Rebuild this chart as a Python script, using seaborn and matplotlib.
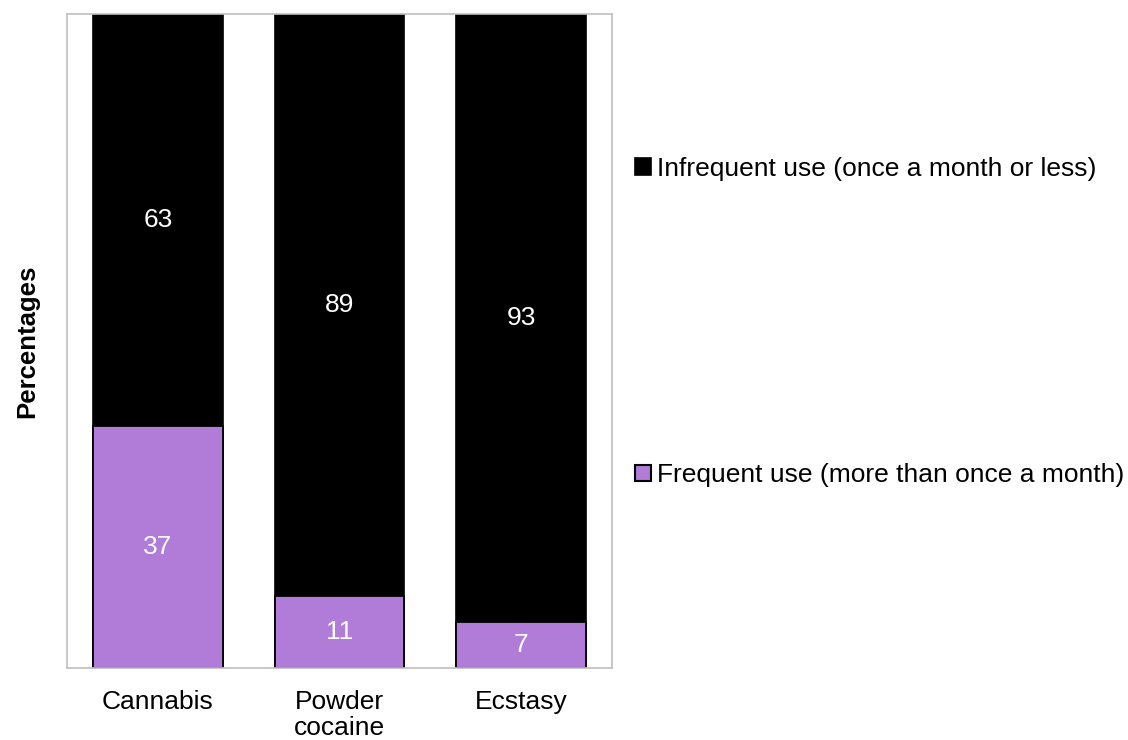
import matplotlib
matplotlib.use("Agg")
import matplotlib.pyplot as plt
import seaborn as sns
import pandas as pd
from matplotlib.patches import Patch

categories = ["Cannabis", "Powder\ncocaine", "Ecstasy"]
frequent = [37, 11, 7]
infrequent = [63, 89, 93]
series_names = ["Infrequent use (once a month or less)", "Frequent use (more than once a month)"]

sns.set_theme(style="white")
plt.rcParams['font.family'] = ['Liberation Sans', 'DejaVu Sans']
plt.rcParams['text.color'] = 'black'
plt.rcParams['axes.labelcolor'] = 'black'
plt.rcParams['xtick.color'] = 'black'

PURPLE = "#B07CD8"
GRAY = "#BFBFBF"
FS = 19

df = pd.DataFrame({"cat": categories, "frequent": frequent, "infrequent": infrequent})
df["total"] = df["frequent"] + df["infrequent"]

fig = plt.figure(figsize=(11.28, 7.40), dpi=100)
ax = fig.add_axes([67/1128, 1-668/740, (612-67)/1128, (668-14)/740])

sns.barplot(data=df, x="cat", y="total", color="black", width=0.715,
            edgecolor="black", linewidth=1.2, saturation=1, ax=ax)
sns.barplot(data=df, x="cat", y="frequent", color=PURPLE, width=0.715,
            edgecolor="black", linewidth=1.3, saturation=1, ax=ax)

for i, (f, inf) in enumerate(zip(df["frequent"], df["infrequent"])):
    ax.text(i, f/2, f"{f}", ha="center", va="center", color="white", fontsize=FS)
    ax.text(i, f + inf/2, f"{inf}", ha="center", va="center", color="white", fontsize=FS)

ax.set_ylim(0, 100)
ax.set_xlim(-0.5, 2.5)
ax.set_yticks([])
ax.set_xlabel("")
ax.set_ylabel("Percentages", fontsize=FS - 0.5, fontweight="bold", labelpad=20, color="black")
ax.tick_params(axis="x", which="major", length=0, labelsize=FS, pad=16, labelcolor="black")
ax.set_xticks([-0.5, 0.5, 1.5, 2.5], minor=True)
ax.tick_params(axis="x", which="minor", length=8, color=GRAY, width=1.2, direction="out")
for s in ax.spines.values():
    s.set_color(GRAY)
    s.set_linewidth(1.2)
for lbl in ax.get_xticklabels():
    lbl.set_linespacing(1.1)

handles = [Patch(facecolor="black", edgecolor="black", linewidth=1.2),
           Patch(facecolor=PURPLE, edgecolor="black", linewidth=1.5)]
leg = fig.legend(handles, series_names, loc="upper left",
                 bbox_to_anchor=(635/1128, 1-157/740), frameon=False,
                 fontsize=FS, handlelength=0.6, handleheight=0.6,
                 handletextpad=0.23, labelspacing=10.7, borderpad=0, borderaxespad=0)
for t in leg.get_texts():
    t.set_color("black")

fig.savefig("out.png", dpi=100)
